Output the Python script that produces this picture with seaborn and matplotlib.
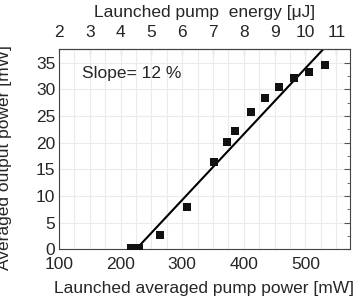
import numpy as np
import pandas as pd
import matplotlib
matplotlib.use("Agg")
import matplotlib.pyplot as plt
from matplotlib.ticker import MultipleLocator, FixedLocator
import seaborn as sns

# measured points
pump_power = [217, 230, 264, 308, 351, 373, 385, 411, 434, 457, 481, 506, 531]
output_power = [0.3, 0.3, 2.7, 7.9, 16.3, 20.2, 22.1, 25.7, 28.3, 30.5, 32.1, 33.2, 34.5]

# linear fit: threshold and slope
fit_threshold = 225
fit_slope = 0.1235
fit_power = [fit_threshold, 560]

rep_rate_khz = 50  # power [mW] / rep rate -> energy [uJ]
energy_ticks = [2, 3, 4, 5, 6, 7, 8, 9, 10, 11]

sns.set_style("white")
plt.rcParams["font.family"] = ["Liberation Sans", "DejaVu Sans"]

df = pd.DataFrame({"pump": pump_power, "out": output_power})
fit_df = pd.DataFrame({"pump": fit_power,
                       "out": [(p - fit_threshold) * fit_slope for p in fit_power]})

fig = plt.figure(figsize=(3.57, 2.99), dpi=100)
ax = fig.add_axes([0.165, 0.166, 0.815, 0.669])

sns.lineplot(data=fit_df, x="pump", y="out", color="black", lw=1.5, ax=ax)
sns.scatterplot(data=df, x="pump", y="out", marker="s", s=30, color="#111111",
                edgecolor="#111111", linewidth=0, ax=ax, zorder=3)

ax.set_xlim(100, 572)
ax.set_ylim(0, 37.5)
ax.xaxis.set_major_locator(MultipleLocator(100))
ax.xaxis.set_minor_locator(MultipleLocator(25))
ax.yaxis.set_major_locator(MultipleLocator(5))
ax.yaxis.set_minor_locator(MultipleLocator(2.5))
ax.grid(True, which="minor", axis="x", color="#ebebeb", lw=0.8)
ax.grid(True, which="major", axis="both", color="#ebebeb", lw=0.8)
ax.set_axisbelow(True)
ax.tick_params(which="both", direction="in", top=False, right=True,
               labelsize=12.5, color="#555555")
ax.tick_params(axis="x", pad=5.5)
ax.tick_params(axis="y", pad=2.5)
ax.tick_params(which="major", length=4)
ax.tick_params(which="minor", length=2.5)
for s in ax.spines.values():
    s.set_color("#444444")
    s.set_linewidth(0.8)

ax.set_xlabel("Launched averaged pump power [mW]", fontsize=12.5, labelpad=6.5)
ax.set_ylabel("Averaged output power [mW]", fontsize=12.5)
ax.yaxis.set_label_coords(-0.161, 0.46)

top = ax.secondary_xaxis("top", functions=(lambda p: p / rep_rate_khz,
                                           lambda e: e * rep_rate_khz))
top.xaxis.set_major_locator(FixedLocator(energy_ticks))
top.xaxis.set_minor_locator(MultipleLocator(0.5))
top.tick_params(which="both", direction="in", labelsize=12.5, color="#555555", pad=6.5)
top.tick_params(which="major", length=4)
top.tick_params(which="minor", length=2.5)
top.set_xlabel("Launched pump  energy [\u03bcJ]", fontsize=12.5, labelpad=6)

ax.text(0.08, 0.88, "Slope= 12 %", transform=ax.transAxes, fontsize=12.5,
        va="center", ha="left")

fig.savefig("out.png", dpi=100)
